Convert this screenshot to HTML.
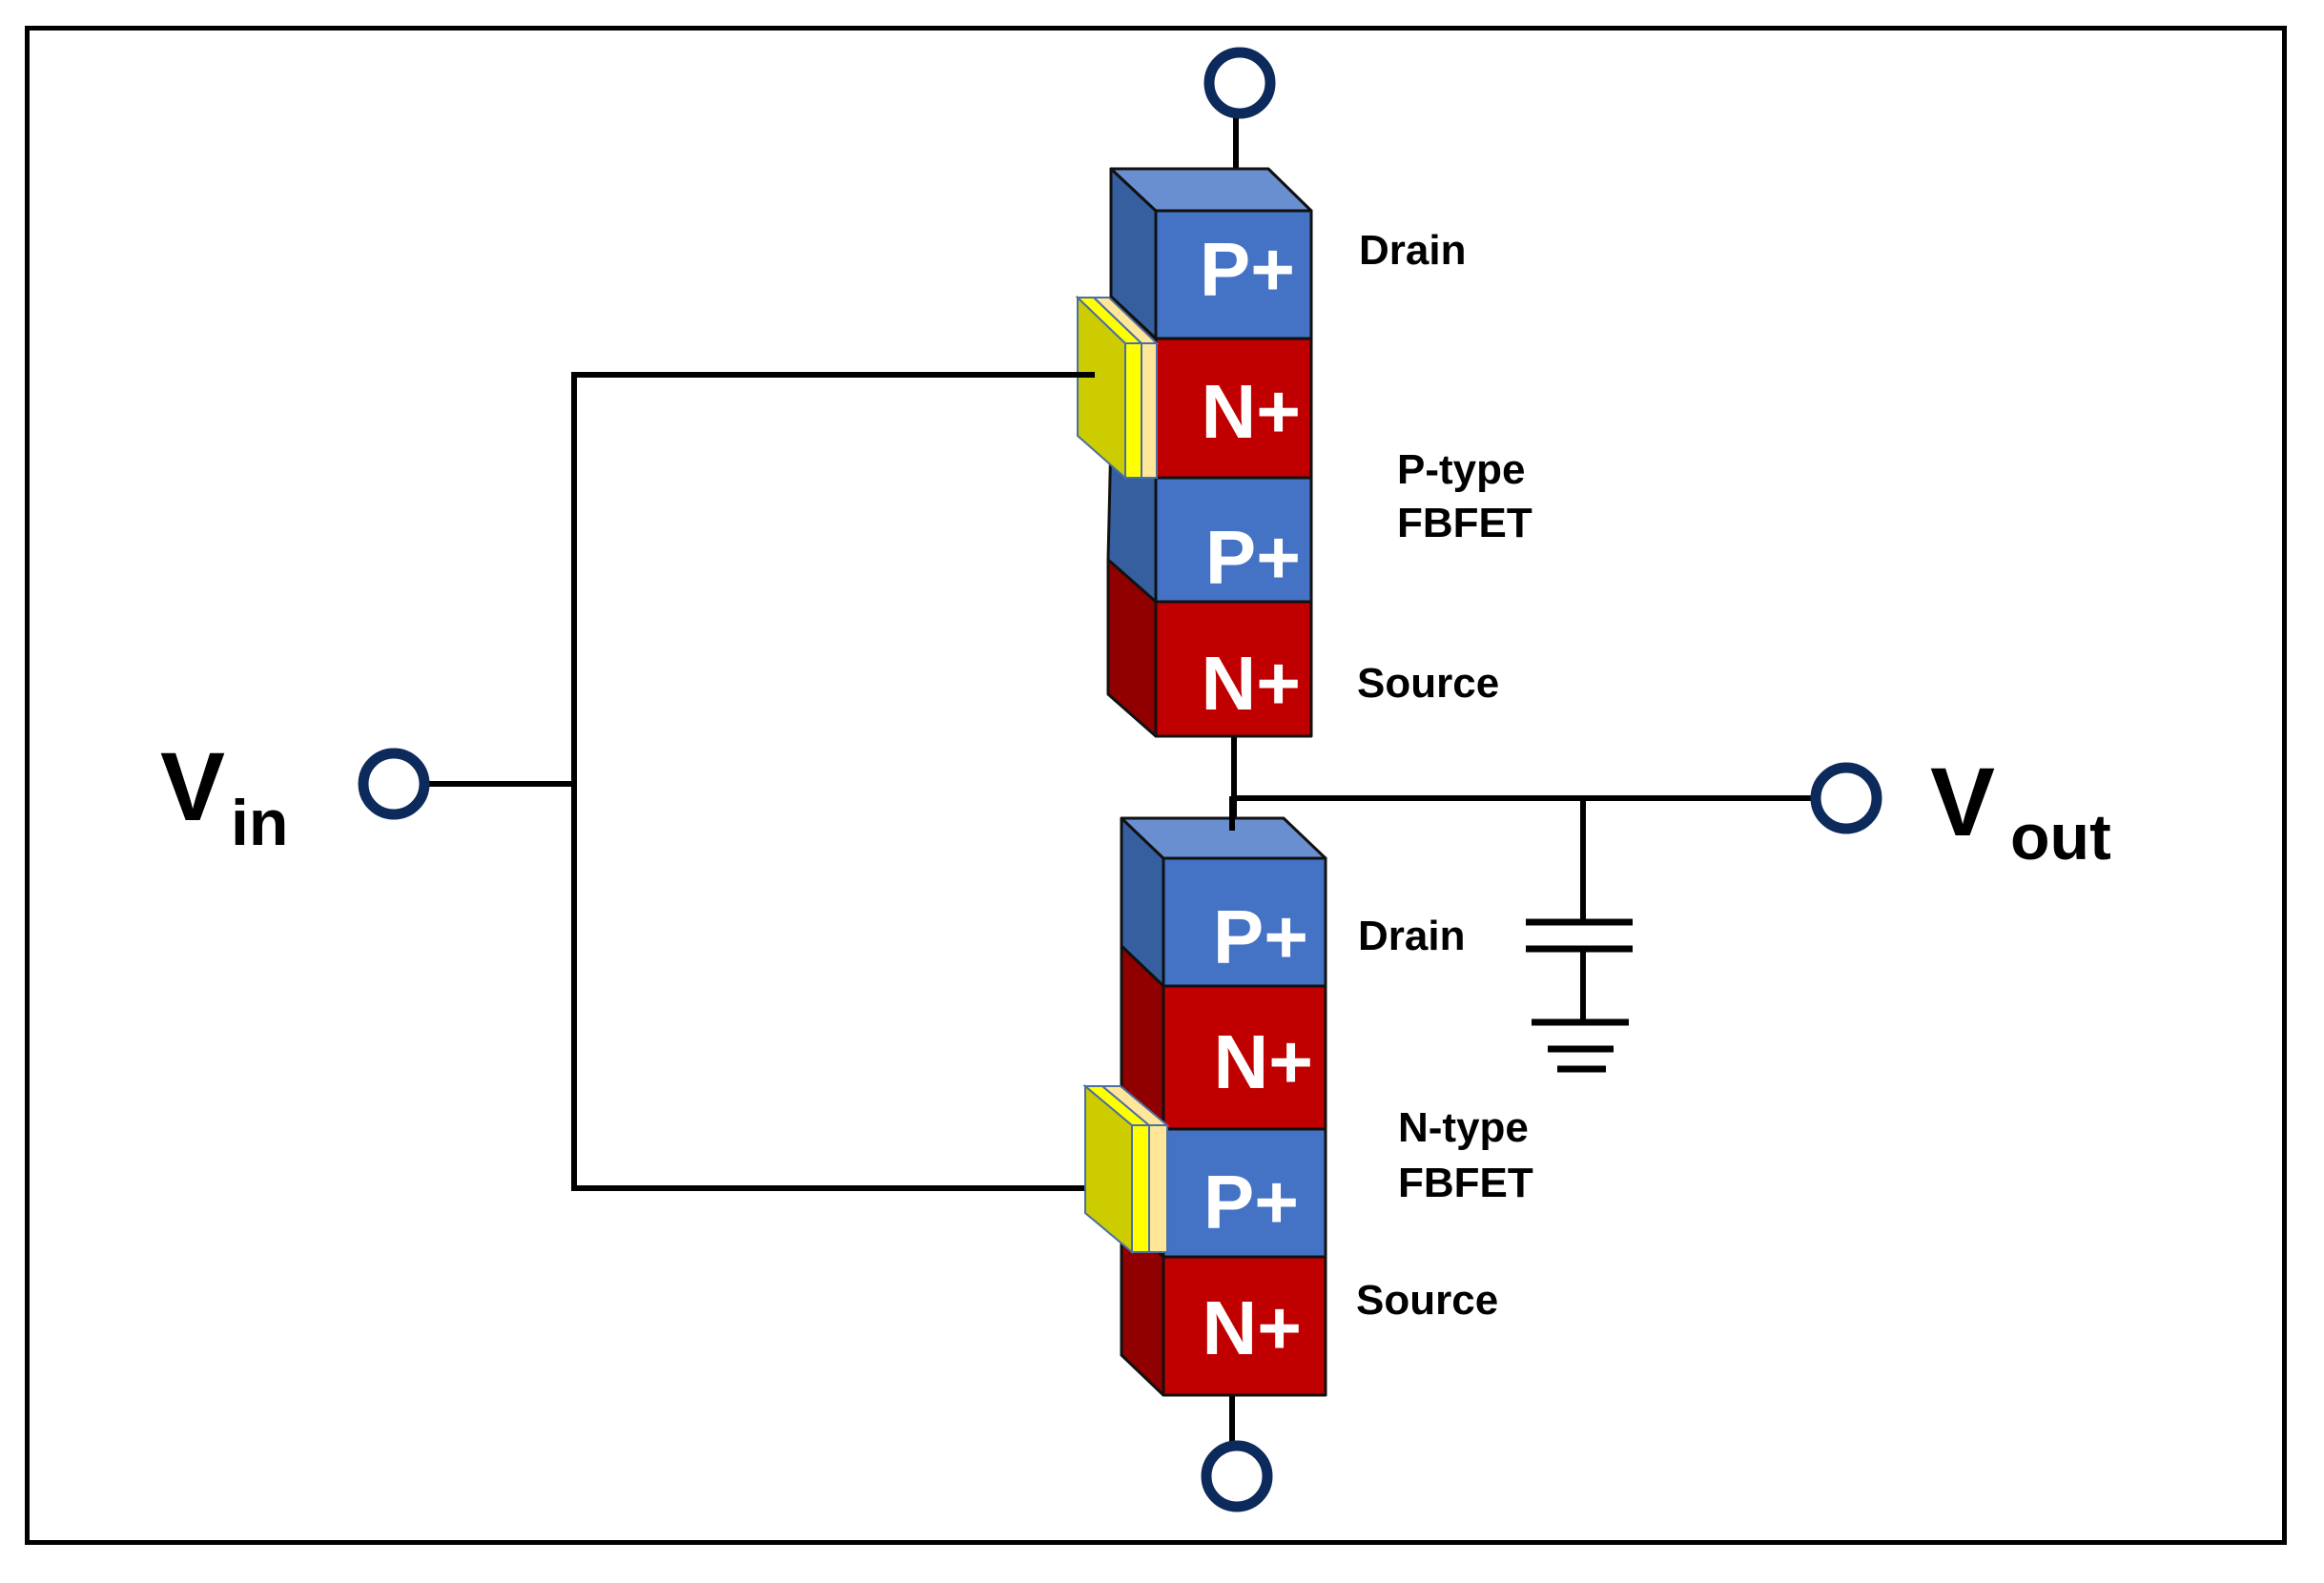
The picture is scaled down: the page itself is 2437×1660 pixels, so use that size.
<!DOCTYPE html>
<html><head><meta charset="utf-8"><style>
html,body{margin:0;padding:0;background:#fff;}
svg{display:block;}
text{font-family:"Liberation Sans",sans-serif;font-weight:bold;}
</style></head><body>
<svg width="2437" height="1660" viewBox="0 0 2437 1660" xmlns="http://www.w3.org/2000/svg">
<rect x="0" y="0" width="2437" height="1660" fill="#fff"/>
<rect x="28.5" y="29.5" width="2367" height="1588" fill="none" stroke="#000" stroke-width="5"/>

<!-- wires -->
<g stroke="#000" stroke-width="6" fill="none">
<line x1="1296" y1="110" x2="1296" y2="180"/>
<line x1="1294" y1="772" x2="1294" y2="875"/>
<line x1="1292" y1="1463" x2="1292" y2="1515"/>
<line x1="1296" y1="837" x2="1902" y2="837"/>
<polyline points="1148,393 602,393 602,1246 1150,1246"/>
<line x1="447" y1="822" x2="602" y2="822"/>
<line x1="1660" y1="837" x2="1660" y2="967"/>
<line x1="1660" y1="995" x2="1660" y2="1072"/>
</g>
<g stroke="#000" stroke-width="7">
<line x1="1600" y1="967" x2="1712" y2="967"/>
<line x1="1600" y1="995" x2="1712" y2="995"/>
<line x1="1606" y1="1072" x2="1708" y2="1072"/>
<line x1="1623" y1="1100" x2="1692" y2="1100"/>
<line x1="1633" y1="1121" x2="1684" y2="1121"/>
</g>

<!-- terminals -->
<g fill="#fff" stroke="#0d2a5c" stroke-width="11">
<circle cx="1300" cy="87" r="32"/>
<circle cx="1297" cy="1548" r="32"/>
<circle cx="413" cy="822" r="32"/>
<circle cx="1936" cy="837" r="32"/>
</g>

<!-- top transistor -->
<g stroke="#111" stroke-width="3" stroke-linejoin="round">
<polygon points="1165,177 1212,221 1212,355 1165,311" fill="#365f9f"/>
<polygon points="1165,311 1212,355 1212,501 1165,457" fill="#900000"/>
<polygon points="1165,457 1212,501 1212,631 1162,587" fill="#365f9f"/>
<polygon points="1162,587 1212,631 1212,772 1162,728" fill="#900000"/>
<polygon points="1165,177 1330,177 1375,221 1212,221" fill="#6a8fd0"/>
<rect x="1212" y="221" width="163" height="134" fill="#4472c4"/>
<rect x="1212" y="355" width="163" height="146" fill="#c00000"/>
<rect x="1212" y="501" width="163" height="130" fill="#4472c4"/>
<rect x="1212" y="631" width="163" height="141" fill="#c00000"/>
</g>
<g stroke="#4a6fa5" stroke-width="2">
<polygon points="1130,312 1180,360 1180,501 1130,457" fill="#cccc00"/>
<rect x="1180" y="360" width="17" height="141" fill="#ffff00"/>
<rect x="1197" y="360" width="16" height="141" fill="#ffe699"/>
<polygon points="1130,312 1147,312 1197,360 1180,360" fill="#ffff00"/>
<polygon points="1147,312 1163,312 1213,360 1197,360" fill="#ffe699"/>
</g>
<line x1="1100" y1="393" x2="1148" y2="393" stroke="#000" stroke-width="6"/>
<g fill="#fff" font-size="80" text-anchor="end">
<text x="1358" y="310">P+</text>
<text x="1364" y="459">N+</text>
<text x="1364" y="612">P+</text>
<text x="1364" y="744">N+</text>
</g>

<!-- bottom transistor -->
<g stroke="#111" stroke-width="3" stroke-linejoin="round">
<polygon points="1176,858 1220,900 1220,1034 1176,992" fill="#365f9f"/>
<polygon points="1176,992 1220,1034 1220,1184 1176,1142" fill="#900000"/>
<polygon points="1176,1142 1220,1184 1220,1318 1176,1276" fill="#365f9f"/>
<polygon points="1176,1276 1220,1318 1220,1463 1176,1421" fill="#900000"/>
<polygon points="1176,858 1346,858 1390,900 1220,900" fill="#6a8fd0"/>
<rect x="1220" y="900" width="170" height="134" fill="#4472c4"/>
<rect x="1220" y="1034" width="170" height="150" fill="#c00000"/>
<rect x="1220" y="1184" width="170" height="134" fill="#4472c4"/>
<rect x="1220" y="1318" width="170" height="145" fill="#c00000"/>
</g>
<line x1="1292" y1="835" x2="1292" y2="871" stroke="#000" stroke-width="6"/>
<g stroke="#4a6fa5" stroke-width="2">
<polygon points="1138,1139 1187,1180 1187,1313 1138,1272" fill="#cccc00"/>
<rect x="1187" y="1180" width="18" height="133" fill="#ffff00"/>
<rect x="1205" y="1180" width="19" height="133" fill="#ffe699"/>
<polygon points="1138,1139 1156,1139 1205,1180 1187,1180" fill="#ffff00"/>
<polygon points="1156,1139 1175,1139 1224,1180 1205,1180" fill="#ffe699"/>
</g>
<g fill="#fff" font-size="80" text-anchor="end">
<text x="1372" y="1010">P+</text>
<text x="1377" y="1141">N+</text>
<text x="1362" y="1288">P+</text>
<text x="1365" y="1420">N+</text>
</g>

<!-- labels -->
<g fill="#000" font-size="44">
<text x="1425" y="277">Drain</text>
<text x="1465" y="507">P-type</text>
<text x="1465" y="563">FBFET</text>
<text x="1423" y="731">Source</text>
<text x="1424" y="996">Drain</text>
<text x="1466" y="1197">N-type</text>
<text x="1466" y="1255">FBFET</text>
<text x="1422" y="1378">Source</text>
</g>
<text x="168" y="860" font-size="102">V</text>
<text x="242" y="886" font-size="68">in</text>
<text x="2024" y="876" font-size="102">V</text>
<text x="2108" y="901" font-size="68">out</text>
</svg>
</body></html>
